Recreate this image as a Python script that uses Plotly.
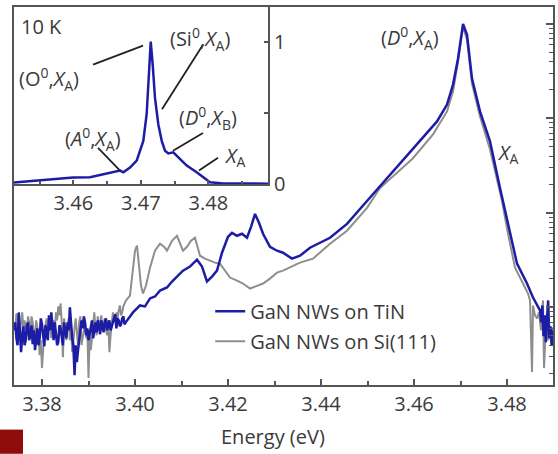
import plotly.graph_objects as go

# ---------------- data ----------------
# Main panel: PL spectra, log10 of normalised intensity
tin_energy = [
    3.37400, 3.37425, 3.37450, 3.37475, 3.37500, 3.37525, 3.37550, 3.37575, 3.37600, 3.37625,
    3.37650, 3.37675, 3.37700, 3.37725, 3.37750, 3.37775, 3.37800, 3.37825, 3.37850, 3.37875,
    3.37900, 3.37925, 3.37950, 3.37975, 3.38000, 3.38025, 3.38050, 3.38075, 3.38100, 3.38125,
    3.38150, 3.38175, 3.38200, 3.38225, 3.38250, 3.38275, 3.38300, 3.38325, 3.38350, 3.38375,
    3.38400, 3.38425, 3.38450, 3.38475, 3.38500, 3.38525, 3.38550, 3.38575, 3.38600, 3.38625,
    3.38650, 3.38675, 3.38700, 3.38725, 3.38750, 3.38775, 3.38800, 3.38825, 3.38850, 3.38875,
    3.38900, 3.38925, 3.38950, 3.38975, 3.39000, 3.39025, 3.39050, 3.39075, 3.39100, 3.39125,
    3.39150, 3.39175, 3.39200, 3.39225, 3.39250, 3.39275, 3.39300, 3.39325, 3.39350, 3.39375,
    3.39400, 3.39425, 3.39450, 3.39475, 3.39500, 3.39525, 3.39550, 3.39575, 3.39600, 3.39625,
    3.39650, 3.39675, 3.39700, 3.39725, 3.39750, 3.39775, 3.39800,
    3.39957, 3.40108, 3.40215, 3.40323, 3.40430, 3.40538, 3.40688, 3.40796, 3.40903, 3.41032,
    3.41183, 3.41333, 3.41441, 3.41548, 3.41656, 3.41763, 3.41871, 3.42000, 3.42086, 3.42194,
    3.42301, 3.42409, 3.42495, 3.42581, 3.42667, 3.42753, 3.42903, 3.43054, 3.43183, 3.43376,
    3.43548, 3.43763, 3.44194, 3.44559, 3.44989, 3.45419, 3.45978, 3.46495, 3.46710, 3.46839,
    3.46946, 3.47054, 3.47140, 3.47247, 3.47419, 3.47634, 3.47849, 3.47914, 3.48065, 3.48215,
    3.48430, 3.48559, 3.48710, 3.48735, 3.48760, 3.48785, 3.48810, 3.48835, 3.48860, 3.48885,
    3.48910, 3.48935, 3.48960, 3.48985,
]
tin_log_intensity = [
    -3.242, -3.158, -3.326, -3.400, -3.053, -3.242, -3.474, -3.295, -3.200, -3.400,
    -3.347, -3.189, -3.158, -3.347, -3.295, -3.189, -3.389, -3.242, -3.453, -3.347,
    -3.221, -3.400, -3.326, -3.116, -3.179, -3.295, -3.411, -3.189, -3.263, -3.347,
    -3.084, -3.242, -3.053, -3.189, -3.347, -3.158, -3.284, -3.400, -3.368, -3.189,
    -3.221, -3.305, -3.400, -3.158, -3.242, -3.326, -3.158, -3.242, -3.000, -3.189,
    -3.326, -3.400, -3.716, -3.400, -3.579, -3.453, -3.347, -3.263, -3.137, -3.221,
    -3.095, -3.158, -3.295, -3.221, -3.347, -3.284, -3.221, -3.137, -3.326, -3.242,
    -3.158, -3.263, -3.137, -3.200, -3.284, -3.137, -3.200, -3.263, -3.158, -3.116,
    -3.242, -3.179, -3.137, -3.242, -3.200, -3.158, -3.116, -3.074, -3.221, -3.116,
    -3.137, -3.200, -3.179, -3.116, -3.095, -3.179, -3.158,
    -3.053, -2.979, -2.989, -2.905, -2.884, -2.821, -2.789, -2.726, -2.674, -2.611,
    -2.568, -2.495, -2.568, -2.726, -2.674, -2.611, -2.421, -2.253, -2.211, -2.242,
    -2.221, -2.263, -2.147, -2.011, -2.105, -2.221, -2.358, -2.400, -2.421, -2.484,
    -2.453, -2.368, -2.263, -2.116, -1.874, -1.632, -1.316, -1.032, -0.853, -0.642,
    -0.368, 0.000, -0.116, -0.579, -0.926, -1.242, -1.737, -1.874, -2.221, -2.537,
    -2.747, -2.895, -3.032, -3.158, -2.979, -3.305, -3.084, -3.368, -3.116, -2.926,
    -3.326, -3.200, -3.400, -3.242,
]

si_energy = [
    3.37400, 3.37425, 3.37450, 3.37475, 3.37500, 3.37525, 3.37550, 3.37575, 3.37600, 3.37625,
    3.37650, 3.37675, 3.37700, 3.37725, 3.37750, 3.37775, 3.37800, 3.37825, 3.37850, 3.37875,
    3.37900, 3.37925, 3.37950, 3.37975, 3.38000, 3.38025, 3.38050, 3.38075, 3.38100, 3.38125,
    3.38150, 3.38175, 3.38200, 3.38225, 3.38250, 3.38275, 3.38300, 3.38325, 3.38350, 3.38375,
    3.38400, 3.38425, 3.38450, 3.38475, 3.38500, 3.38525, 3.38550, 3.38575, 3.38600, 3.38625,
    3.38650, 3.38675, 3.38700, 3.38725, 3.38750, 3.38775, 3.38800, 3.38825, 3.38850, 3.38875,
    3.38900, 3.38925, 3.38950, 3.38975, 3.39000, 3.39025, 3.39050, 3.39075, 3.39100, 3.39125,
    3.39150, 3.39175, 3.39200, 3.39225, 3.39250, 3.39275, 3.39300, 3.39325, 3.39350, 3.39375,
    3.39400, 3.39425, 3.39450, 3.39475, 3.39500, 3.39525, 3.39550, 3.39575, 3.39600, 3.39625,
    3.39650, 3.39675, 3.39700, 3.39725, 3.39750,
    3.39806, 3.39892, 3.39957, 3.40000, 3.40043, 3.40086, 3.40129, 3.40172, 3.40237, 3.40323,
    3.40430, 3.40538, 3.40624, 3.40688, 3.40796, 3.40903, 3.40968, 3.41032, 3.41118, 3.41204,
    3.41290, 3.41355, 3.41398, 3.41505, 3.41613, 3.41720, 3.41828, 3.41935, 3.42043, 3.42194,
    3.42323, 3.42473, 3.42602, 3.42753, 3.42903, 3.43054, 3.43183, 3.43333, 3.43548, 3.43828,
    3.44194, 3.44559, 3.44989, 3.45269, 3.45978, 3.46409, 3.46710, 3.46839, 3.46946, 3.47054,
    3.47140, 3.47247, 3.47419, 3.47634, 3.47785, 3.47892, 3.48022, 3.48172, 3.48344, 3.48387,
    3.48452, 3.48495, 3.48538, 3.48559, 3.48602, 3.48645, 3.48688, 3.48731, 3.48774, 3.48796,
    3.48839, 3.48882, 3.48925, 3.48968, 3.48989,
]
si_log_intensity = [
    -3.158, -3.242, -3.063, -3.116, -3.200, -3.263, -3.116, -3.053, -3.242, -3.137,
    -3.211, -3.295, -3.095, -3.158, -3.284, -3.095, -3.158, -3.242, -3.347, -3.137,
    -3.221, -3.295, -3.505, -3.347, -3.642, -3.400, -3.263, -3.189, -3.116, -3.295,
    -3.200, -3.116, -3.326, -3.221, -3.137, -3.242, -3.053, -3.137, -2.989, -3.084,
    -2.958, -3.158, -3.526, -3.116, -3.242, -3.347, -3.189, -3.116, -3.347, -3.189,
    -3.474, -3.295, -3.221, -3.116, -3.305, -3.400, -3.158, -3.095, -3.400, -3.295,
    -3.242, -3.158, -3.326, -3.242, -3.747, -3.295, -3.453, -3.326, -3.137, -3.053,
    -3.221, -3.295, -3.095, -3.221, -3.158, -3.084, -3.242, -3.189, -3.116, -3.221,
    -3.295, -3.137, -3.474, -3.295, -3.189, -3.053, -3.116, -3.158, -3.053, -3.116,
    -3.032, -2.979, -3.084, -3.053, -2.989,
    -2.926, -2.874, -2.611, -2.400, -2.347, -2.526, -2.768, -2.853, -2.768, -2.579,
    -2.400, -2.326, -2.358, -2.400, -2.295, -2.242, -2.316, -2.400, -2.358, -2.295,
    -2.263, -2.379, -2.453, -2.484, -2.505, -2.526, -2.537, -2.611, -2.684, -2.716,
    -2.747, -2.800, -2.779, -2.747, -2.695, -2.632, -2.611, -2.579, -2.526, -2.484,
    -2.326, -2.189, -1.947, -1.737, -1.421, -1.168, -0.926, -0.716, -0.400, -0.032,
    -0.168, -0.632, -0.979, -1.326, -1.663, -1.874, -2.221, -2.579, -2.747, -2.789,
    -2.853, -2.926, -3.684, -2.979, -3.084, -3.116, -3.053, -3.242, -2.926, -3.642,
    -3.189, -3.347, -3.274, -3.400, -3.211,
]

# Inset: 10 K spectrum (TiN), linear normalised intensity
inset_energy = [
    3.45121, 3.45507, 3.45996, 3.46247, 3.46444, 3.46643, 3.46692, 3.46741, 3.46840, 3.46939,
    3.47037, 3.47087, 3.47111, 3.47147, 3.47176, 3.47210, 3.47259, 3.47310, 3.47359, 3.47407,
    3.47481, 3.47556, 3.47680, 3.47828, 3.47926, 3.48025, 3.48222, 3.48470, 3.48889,
]
inset_intensity = [
    0.009, 0.023, 0.044, 0.046, 0.065, 0.088, 0.093, 0.081, 0.114, 0.163,
    0.302, 0.491, 0.721, 1.000, 0.839, 0.604, 0.419, 0.302, 0.232, 0.214,
    0.221, 0.186, 0.128, 0.081, 0.046, 0.011, 0.002, 0.001, 0.001,
]

main_xticks = [3.38, 3.40, 3.42, 3.44, 3.46, 3.48]
main_xticklabels = ["3.38", "3.40", "3.42", "3.44", "3.46", "3.48"]
main_xminor = [3.39, 3.41, 3.43, 3.45, 3.47]
main_ymajor = [1e-3, 1e-2, 1e-1, 1]
main_yminor = [m * d for d in (1e-4, 1e-3, 1e-2, 1e-1) for m in range(2, 10)]
inset_xticks = [3.46, 3.47, 3.48]
inset_xticklabels = ["3.46", "3.47", "3.48"]
inset_xminor = [3.455, 3.465, 3.475, 3.485]
inset_yticks = [0, 0.5, 1]
inset_yticklabels = ["0", "", "1"]

BLUE = "#1c1ca6"
GRAY = "#8e8e8e"
AX = "#555555"
TXT = "#3a3a3a"
FONT = "Open Sans"

fig = go.Figure()
# gray first so that the blue spectrum is drawn on top
fig.add_trace(go.Scatter(
    x=si_energy, y=[10 ** v for v in si_log_intensity], mode="lines",
    line=dict(color=GRAY, width=2), name="GaN NWs on Si(111)", legendgroup="si",
    legendrank=2, xaxis="x", yaxis="y"))
fig.add_trace(go.Scatter(
    x=tin_energy, y=[10 ** v for v in tin_log_intensity], mode="lines",
    line=dict(color=BLUE, width=2.5), name="GaN NWs on TiN", legendgroup="tin",
    legendrank=1, xaxis="x", yaxis="y"))
fig.add_trace(go.Scatter(
    x=inset_energy, y=inset_intensity, mode="lines",
    line=dict(color=BLUE, width=2.5), showlegend=False,
    xaxis="x2", yaxis="y2"))

axis_common = dict(showline=True, linecolor=AX, linewidth=1.5, mirror=True,
                   showgrid=False, zeroline=False, tickcolor=AX, tickwidth=1.5,
                   tickfont=dict(family=FONT, size=20, color=TXT))

fig.update_layout(
    width=558, height=454,
    margin=dict(l=14, r=5, t=5, b=69),
    paper_bgcolor="white", plot_bgcolor="white",
    font=dict(family=FONT, size=20, color=TXT),
    xaxis=dict(domain=[0, 1], anchor="y", range=[3.37398, 3.48989],
               ticks="inside", ticklen=6, tickvals=main_xticks, ticktext=main_xticklabels,
               minor=dict(tickvals=main_xminor, ticks="inside", ticklen=4,
                          tickcolor=AX, tickwidth=1.5),
               **axis_common),
    yaxis=dict(domain=[0, 1], anchor="x", type="log", range=[-3.821, 0.179], side="right",
               ticks="inside", ticklen=7, tickvals=main_ymajor, showticklabels=False,
               minor=dict(tickvals=main_yminor, ticks="inside", ticklen=4,
                          tickcolor=AX, tickwidth=1.2),
               **axis_common),
    xaxis2=dict(domain=[0, 0.4718], anchor="y2", range=[3.45121, 3.48889],
                ticks="inside", ticklen=5, tickvals=inset_xticks, ticktext=inset_xticklabels,
                minor=dict(tickvals=inset_xminor, ticks="inside", ticklen=4,
                           tickcolor=AX, tickwidth=1.5),
                **axis_common),
    yaxis2=dict(domain=[0.5308, 1], anchor="x2", range=[-0.004, 1.244], side="right",
                ticks="inside", ticklen=5, tickvals=inset_yticks, ticktext=inset_yticklabels,
                **axis_common),
    legend=dict(x=0.364, y=0.247, xanchor="left", yanchor="top",
                bgcolor="rgba(0,0,0,0)", font=dict(family=FONT, size=20, color=TXT),
                tracegroupgap=1, traceorder="grouped"),
    showlegend=True,
)

ann_font = dict(family=FONT, size=20, color=TXT)
annotations = [
    # main panel labels (log axis -> y in log10 units)
    dict(x=3.45914, y=-0.147, xref="x", yref="y",
         text="(<i>D</i><sup>0</sup>,<i>X</i><sub>A</sub>)"),
    dict(x=3.48006, y=-1.368, xref="x", yref="y", text="<i>X</i><sub>A</sub>"),
    # inset labels
    dict(x=3.45521, y=1.105, xref="x2", yref="y2", text="10 K"),
    dict(x=3.45640, y=0.735, xref="x2", yref="y2",
         text="(O<sup>0</sup>,<i>X</i><sub>A</sub>)"),
    dict(x=3.47880, y=1.021, xref="x2", yref="y2",
         text="(Si<sup>0</sup>,<i>X</i><sub>A</sub>)"),
    dict(x=3.46293, y=0.316, xref="x2", yref="y2",
         text="(<i>A</i><sup>0</sup>,<i>X</i><sub>A</sub>)"),
    dict(x=3.47996, y=0.463, xref="x2", yref="y2",
         text="(<i>D</i><sup>0</sup>,<i>X</i><sub>B</sub>)"),
    dict(x=3.48381, y=0.189, xref="x2", yref="y2", text="<i>X</i><sub>A</sub>"),
    # x-axis title
    dict(x=0.4796, y=-0.137, xref="paper", yref="paper", text="Energy (eV)"),
]
for a in annotations:
    a.update(showarrow=False, xanchor="center", yanchor="middle", font=ann_font)
fig.update_layout(annotations=annotations)

leaders = [
    (3.46292, 0.839, 3.47033, 0.972),
    (3.47921, 0.979, 3.47314, 0.525),
    (3.46366, 0.253, 3.46692, 0.093),
    (3.47921, 0.358, 3.47477, 0.232),
    (3.48144, 0.184, 3.47862, 0.093),
]
shapes = [dict(type="line", xref="x2", yref="y2", x0=a, y0=b, x1=c, y1=d,
               line=dict(color="#222222", width=1.8)) for a, b, c, d in leaders]
shapes.append(dict(type="rect", xref="paper", yref="paper",
                   x0=-0.026, x1=0.0167, y0=-0.182, y1=-0.118,
                   fillcolor="#8f0c0c", line=dict(width=0)))
fig.update_layout(shapes=shapes)

fig.write_html("out.html", config={"displayModeBar": False},
               post_script="document.body.style.margin='0';document.body.style.padding='0';")
